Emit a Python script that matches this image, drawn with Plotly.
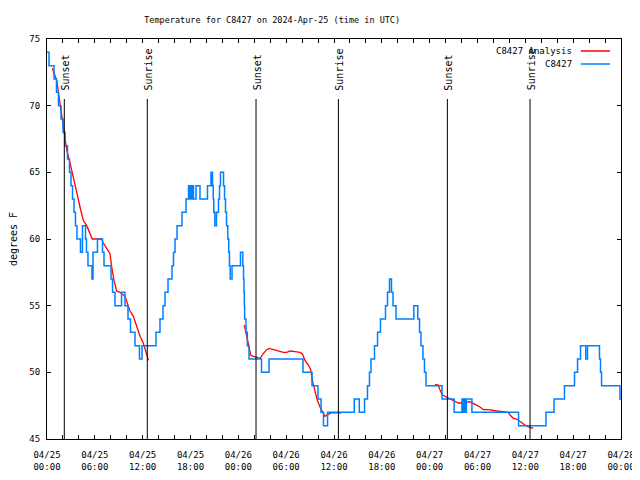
import plotly.graph_objects as go

# ---- data (hours since 2024-04-25 00:00 UTC) ----
obs_hours = [0.00, 0.25, 0.88, 1.19, 1.44, 1.76, 2.01, 2.26, 2.57, 2.82, 3.01, 3.20, 3.39, 3.57, 3.76,
             4.20, 4.45, 4.83, 4.95, 5.14, 5.64, 5.77, 6.33, 6.96, 7.15, 8.03, 8.22, 8.53, 9.35, 9.78,
             10.16, 10.47, 11.04, 11.60, 11.92, 13.67, 14.17, 14.55, 14.80, 15.18, 15.68, 15.87, 16.06,
             16.31, 16.93, 17.44, 17.75, 17.87, 18.00, 18.13, 18.25, 18.37, 18.69, 19.19, 20.13, 20.57,
             20.76, 20.85, 20.92, 21.05, 21.26, 21.51, 21.64, 21.76, 22.14, 22.27, 22.39, 22.52, 22.68,
             22.80, 22.89, 22.98, 23.21, 24.27, 24.56, 24.65, 24.71, 24.75, 24.79, 24.96, 25.13, 25.34,
             26.91, 27.85, 32.11, 33.24, 33.99, 34.37, 34.68, 35.19, 38.54, 39.17, 39.83, 40.20, 40.45,
             40.64, 41.08, 41.46, 41.83, 42.46, 42.71, 42.96, 43.21, 43.40, 43.78, 46.01, 46.51, 46.73,
             46.91, 47.16, 47.35, 47.54, 49.55, 51.07, 52.05, 52.20, 52.36, 52.48, 52.60, 53.30, 59.15,
             62.59, 63.60, 64.91, 66.17, 66.55, 66.92, 67.58, 67.80, 69.30, 69.43, 69.56, 71.87, 72.00]
obs_temp = [74, 73, 72, 71, 70, 69, 68, 67, 66, 65, 64, 63, 62, 61, 60,
            59, 61, 60, 59, 58, 57, 59, 60, 59, 58, 57, 56, 55, 56, 55,
            54, 53, 52, 51, 52, 53, 54, 55, 56, 57, 58, 59, 60,
            61, 62, 63, 64, 63, 64, 63, 64, 63, 64, 63, 64, 65,
            64, 63, 62, 61, 62, 63, 64, 65, 64, 63, 62, 61, 60,
            59, 58, 57, 58, 59, 58, 57, 56, 55, 54, 53, 52, 51,
            50, 51, 50, 49, 48, 47, 46, 47, 48, 47, 48, 49, 50,
            51, 52, 53, 54, 55, 56, 57, 56, 55, 54, 55, 54, 53,
            52, 51, 50, 49, 48, 47, 48, 47, 48, 47, 48, 47, 46,
            47, 48, 49, 50, 51, 52, 51, 52, 51, 50, 49, 48, 48]

ana_hours = [0.66, 1.22, 1.63, 2.04, 2.47, 2.89, 3.30, 3.73, 4.14, 4.55, 4.98, 5.39, 5.68, 6.86, 7.06,
             7.49, 7.90, 8.12, 8.40, 8.74, 9.16, 9.78, 10.07, 10.41, 10.83, 11.25, 11.67, 12.08, 12.51,
             12.73, None,
             24.75, 25.05, 25.25, 25.55, 25.88, 26.72, 27.13, 27.56, 27.88, 28.39, 29.01, 29.64, 30.07,
             30.48, 31.11, 31.74, 32.02, 32.36, 32.78, 33.08, 33.28, 33.49, 33.71, 33.91, 34.24, 34.53,
             34.87, 35.29, 35.71, 36.97, None,
             48.67, 49.08, 49.21, 49.39, 49.59, 50.05, 50.55, 50.97, 51.59, 52.22, 53.06, 53.69, 54.31,
             54.73, 55.36, 56.41, 57.24, 57.87, 58.08, 58.49, 58.92, 59.34, 59.96, 60.37, 61.00]
ana_temp = [72.8, 71.9, 70.2, 68.4, 66.7, 65.7, 64.7, 63.5, 62.4, 61.4, 61.0, 60.4, 60.0, 60.0, 59.7,
            59.3, 58.9, 57.9, 56.9, 56.1, 56.0, 55.7, 55.2, 54.6, 54.2, 53.4, 52.7, 52.2, 51.4,
            50.9, None,
            53.55, 52.7, 51.9, 51.3, 51.2, 51.05, 51.4, 51.7, 51.8, 51.7, 51.6, 51.5, 51.5,
            51.6, 51.55, 51.5, 51.4, 50.9, 50.55, 50.2, 49.4, 48.9, 48.3, 47.9, 47.4, 47.05,
            46.7, 46.85, 46.97, 46.97, None,
            49.1, 49.05, 48.8, 48.5, 48.3, 48.17, 48.0, 47.85, 47.7, 47.7, 47.8, 47.6, 47.4,
            47.2, 47.2, 47.1, 47.05, 47.0, 46.8, 46.55, 46.5, 46.3, 46.05, 45.9, 45.8]

sun_hours = [2.17, 12.58, 26.22, 36.55, 50.22, 60.59]
sun_labels = ["Sunset", "Sunrise", "Sunset", "Sunrise", "Sunset", "Sunrise"]

tick_hours = list(range(0, 73, 2))
major_labels = ["04/25<br>00:00", "04/25<br>06:00", "04/25<br>12:00", "04/25<br>18:00",
                "04/26<br>00:00", "04/26<br>06:00", "04/26<br>12:00", "04/26<br>18:00",
                "04/27<br>00:00", "04/27<br>06:00", "04/27<br>12:00", "04/27<br>18:00",
                "04/28<br>00:00"]
y_ticks = [45, 50, 55, 60, 65, 70, 75]

series_names = ["C8427 Analysis", "C8427"]
series_colors = ["#ff0000", "#0080ff"]

# ---- figure ----
FONT = "DejaVu Sans Mono"
tick_text = [major_labels[h // 6] if h % 6 == 0 else "" for h in tick_hours]

fig = go.Figure()
fig.add_trace(go.Scatter(x=ana_hours, y=ana_temp, mode="lines", name=series_names[0],
                         line=dict(color=series_colors[0], width=1.3), connectgaps=False))
fig.add_trace(go.Scatter(x=obs_hours, y=obs_temp, mode="lines", name=series_names[1],
                         line=dict(color=series_colors[1], width=1.5, shape="hv")))

LINE_TOP = 70.5
for h, lab in zip(sun_hours, sun_labels):
    fig.add_shape(type="line", xref="x", yref="y", x0=h, x1=h, y0=45, y1=LINE_TOP,
                  line=dict(color="black", width=1))
    fig.add_annotation(x=h + 0.12, y=71.0, xref="x", yref="y", text=lab, textangle=-90,
                       showarrow=False, xanchor="center", yanchor="bottom",
                       font=dict(family=FONT, size=10, color="black"))

# manual gnuplot-style legend (text then sample)
leg_y = [0.97, 0.9375]
for name, col, yy in zip(series_names, series_colors, leg_y):
    fig.add_annotation(x=0.918, y=yy, xref="paper", yref="paper", text=name, showarrow=False,
                       xanchor="right", yanchor="middle",
                       font=dict(family=FONT, size=9, color="black"))
    fig.add_shape(type="line", xref="paper", yref="paper", x0=0.930, x1=0.981, y0=yy, y1=yy,
                  line=dict(color=col, width=1.5))

# the page adds an 8px body margin, so the figure is sized to fit the 640x480 window
fig.update_layout(
    width=632, height=472, autosize=False,
    margin=dict(l=39, r=19, t=31, b=41, autoexpand=False),
    paper_bgcolor="white", plot_bgcolor="white",
    showlegend=False,
    font=dict(family=FONT, size=9, color="black"),
    title=dict(text="Temperature for C8427 on 2024-Apr-25 (time in UTC)",
               x=0.418, xanchor="center", y=0.975, yanchor="middle", automargin=False,
               font=dict(family=FONT, size=8.5, color="black")),
)
fig.update_xaxes(range=[0, 72], tickmode="array", tickvals=tick_hours, ticktext=tick_text,
                 ticks="inside", ticklen=4, tickcolor="black", showline=True, linecolor="black",
                 linewidth=1, mirror="ticks", showgrid=False, zeroline=False, automargin=False,
                 tickfont=dict(family=FONT, size=9), ticklabelstandoff=7)
fig.update_yaxes(range=[45, 75], tickmode="array", tickvals=y_ticks,
                 ticks="inside", ticklen=4, tickcolor="black", showline=True, linecolor="black",
                 linewidth=1, mirror="ticks", showgrid=False, zeroline=False, automargin=False,
                 tickfont=dict(family=FONT, size=9), ticklabelstandoff=4,
                 title=dict(text="degrees F", standoff=17, font=dict(family=FONT, size=10)))

fig.write_html("out.html")
